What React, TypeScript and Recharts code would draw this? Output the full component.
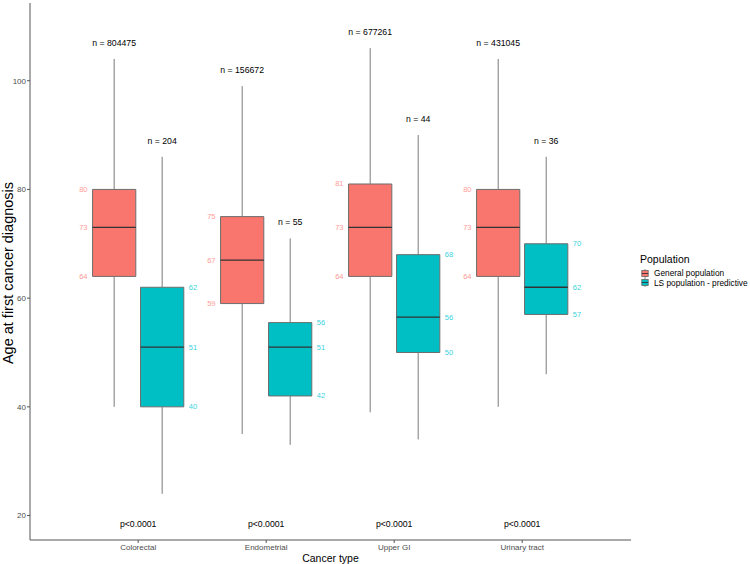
import React from 'react';
import { ComposedChart, XAxis, YAxis, ReferenceArea, ReferenceLine, Scatter } from 'recharts';

// ---- data ----
const categories = ['Colorectal', 'Endometrial', 'Upper GI', 'Urinary tract'];
const yTicks = [20, 40, 60, 80, 100];

const genMin = [40, 35, 39, 40];
const genQ1 = [64, 59, 64, 64];
const genMed = [73, 67, 73, 73];
const genQ3 = [80, 75, 81, 80];
const genMax = [104, 99, 106, 104];
const genN = ['804475', '156672', '677261', '431045'];

const lsMin = [24, 33, 34, 46];
const lsQ1 = [40, 42, 50, 57];
const lsMed = [51, 51, 56.5, 62];
const lsQ3 = [62, 55.5, 68, 70];
const lsMax = [86, 71, 90, 86];
const lsN = ['204', '55', '44', '36'];

const pValues = ['p<0.0001', 'p<0.0001', 'p<0.0001', 'p<0.0001'];

// ---- style ----
const FONT = '"Liberation Sans", Arial, Helvetica, sans-serif';
const GEN_FILL = '#F8766D';
const LS_FILL = '#00BFC4';
const GEN_LABEL = '#FF9D97';
const LS_LABEL = '#3BD3DD';
const OFF = 0.1875;
const HALF = 0.169;
const N_GAP = 3;
const P_Y = 18.5;

const roundHalfEven = (v: number) => {
  const f = Math.floor(v);
  if (Math.abs(v - f - 0.5) < 1e-9) return f % 2 === 0 ? f : f + 1;
  return Math.round(v);
};

type Grp = {
  min: number[]; q1: number[]; med: number[]; q3: number[]; max: number[]; n: string[];
  side: number; fill: string; label: string; key: string;
};
const groups: Grp[] = [
  { min: genMin, q1: genQ1, med: genMed, q3: genQ3, max: genMax, n: genN, side: -1, fill: GEN_FILL, label: GEN_LABEL, key: 'gen' },
  { min: lsMin, q1: lsQ1, med: lsMed, q3: lsQ3, max: lsMax, n: lsN, side: 1, fill: LS_FILL, label: LS_LABEL, key: 'ls' },
];

const nLabels = groups.flatMap((g) =>
  categories.map((_, i) => ({ x: i + 1 + g.side * OFF, y: g.max[i] + N_GAP, text: 'n = ' + g.n[i] }))
);
const pLabels = categories.map((_, i) => ({ x: i + 1, y: P_Y, text: pValues[i] }));
const valLabels = (g: Grp) =>
  categories.flatMap((_, i) => {
    const edge = i + 1 + g.side * OFF + g.side * HALF;
    return [g.q1[i], g.med[i], g.q3[i]].map((v) => ({ x: edge, y: v, text: String(roundHalfEven(v)) }));
  });
const genValLabels = valLabels(groups[0]);
const lsValLabels = valLabels(groups[1]);

const textShape = (opts: { dx: number; anchor: string; size: number; color: string }) => (p: any) => {
  const t = p?.payload?.text ?? p?.text ?? '';
  return (
    <text
      x={p.cx + opts.dx}
      y={p.cy}
      textAnchor={opts.anchor}
      dominantBaseline="central"
      fontSize={opts.size}
      fill={opts.color}
      fontFamily={FONT}
    >
      {t}
    </text>
  );
};

const AXIS_COLOR = '#555555';
const TICK_TEXT = '#4D4D4D';

const LegendKey = ({ fill }: { fill: string }) => (
  <svg width={8} height={9} style={{ position: 'absolute', left: 0, top: 0 }}>
    <line x1={4} y1={0} x2={4} y2={1.5} stroke="#666" strokeWidth={0.8} />
    <line x1={4} y1={7.5} x2={4} y2={9} stroke="#666" strokeWidth={0.8} />
    <rect x={0.8} y={1.5} width={6.4} height={6} fill={fill} stroke="#666" strokeWidth={0.8} />
    <line x1={0.8} y1={4.5} x2={7.2} y2={4.5} stroke="#333" strokeWidth={0.9} />
  </svg>
);

export default function App() {
  return (
    <div style={{ position: 'absolute', left: 0, top: 0, width: 750, height: 564, background: '#fff', fontFamily: FONT }}>
      <ComposedChart width={750} height={564} margin={{ top: 3, right: 119, bottom: 0, left: 0 }} data={pLabels}>
        <XAxis
          dataKey="x"
          type="number"
          domain={[0.155, 4.85]}
          allowDataOverflow
          ticks={[1, 2, 3, 4]}
          tickFormatter={(v: number) => categories[Math.round(v) - 1] ?? ''}
          height={24}
          tickSize={3}
          tickMargin={1}
          stroke={AXIS_COLOR}
          tick={{ fill: TICK_TEXT, fontSize: 8, fontFamily: FONT }}
          label={{
            content: (props: any) => {
              const vb = props.viewBox || { x: 30, width: 601 };
              return (
                <text x={vb.x + vb.width / 2} y={558} textAnchor="middle" dominantBaseline="central" fontSize={10.5} fill="#000" fontFamily={FONT}>
                  Cancer type
                </text>
              );
            },
          }}
        />
        <YAxis
          dataKey="y"
          type="number"
          domain={[15.5, 114.3]}
          allowDataOverflow
          ticks={yTicks}
          width={30}
          tickSize={3}
          tickMargin={1}
          stroke={AXIS_COLOR}
          tick={{ fill: TICK_TEXT, fontSize: 8, fontFamily: FONT }}
          label={{
            content: () => (
              <text x={8} y={273} transform="rotate(-90 8 273)" textAnchor="middle" dominantBaseline="central" fontSize={14.5} fill="#000" fontFamily={FONT}>
                Age at first cancer diagnosis
              </text>
            ),
          }}
        />

        {groups.flatMap((g) =>
          categories.map((_, i) => {
            const c = i + 1 + g.side * OFF;
            return (
              <ReferenceLine
                key={`wu-${g.key}-${i}`}
                segment={[{ x: c, y: g.q3[i] }, { x: c, y: g.max[i] }]}
                stroke="#7a7a7a"
                strokeWidth={1}
                ifOverflow="visible"
              />
            );
          })
        )}
        {groups.flatMap((g) =>
          categories.map((_, i) => {
            const c = i + 1 + g.side * OFF;
            return (
              <ReferenceLine
                key={`wl-${g.key}-${i}`}
                segment={[{ x: c, y: g.min[i] }, { x: c, y: g.q1[i] }]}
                stroke="#7a7a7a"
                strokeWidth={1}
                ifOverflow="visible"
              />
            );
          })
        )}
        {groups.flatMap((g) =>
          categories.map((_, i) => {
            const c = i + 1 + g.side * OFF;
            return (
              <ReferenceArea
                key={`box-${g.key}-${i}`}
                x1={c - HALF}
                x2={c + HALF}
                y1={g.q1[i]}
                y2={g.q3[i]}
                fill={g.fill}
                fillOpacity={1}
                stroke="#6e6e6e"
                strokeWidth={1}
                ifOverflow="visible"
              />
            );
          })
        )}
        {groups.flatMap((g) =>
          categories.map((_, i) => {
            const c = i + 1 + g.side * OFF;
            return (
              <ReferenceLine
                key={`med-${g.key}-${i}`}
                segment={[{ x: c - HALF, y: g.med[i] }, { x: c + HALF, y: g.med[i] }]}
                stroke="#333333"
                strokeWidth={1.3}
                ifOverflow="visible"
              />
            );
          })
        )}

        <Scatter data={nLabels} dataKey="y" isAnimationActive={false} shape={textShape({ dx: 0, anchor: 'middle', size: 8.7, color: '#000' })} />
        <Scatter data={pLabels} dataKey="y" isAnimationActive={false} shape={textShape({ dx: 0, anchor: 'middle', size: 8.7, color: '#000' })} />
        <Scatter data={genValLabels} dataKey="y" isAnimationActive={false} shape={textShape({ dx: -5, anchor: 'end', size: 7.5, color: GEN_LABEL })} />
        <Scatter data={lsValLabels} dataKey="y" isAnimationActive={false} shape={textShape({ dx: 5, anchor: 'start', size: 7.5, color: LS_LABEL })} />
      </ComposedChart>

      <div style={{ position: 'absolute', left: 640, top: 253, fontSize: 10.5, lineHeight: '13px', color: '#000', whiteSpace: 'nowrap' }}>
        Population
      </div>
      {[
        { fill: GEN_FILL, text: 'General population', cy: 273.3 },
        { fill: LS_FILL, text: 'LS population - predictive', cy: 282.7 },
      ].map((it) => (
        <div key={it.text}>
          <div style={{ position: 'absolute', left: 641, top: it.cy - 4.5, width: 8, height: 9 }}>
            <LegendKey fill={it.fill} />
          </div>
          <div style={{ position: 'absolute', left: 654, top: it.cy - 5, fontSize: 8.3, lineHeight: '10px', color: '#000', whiteSpace: 'nowrap' }}>
            {it.text}
          </div>
        </div>
      ))}
    </div>
  );
}
